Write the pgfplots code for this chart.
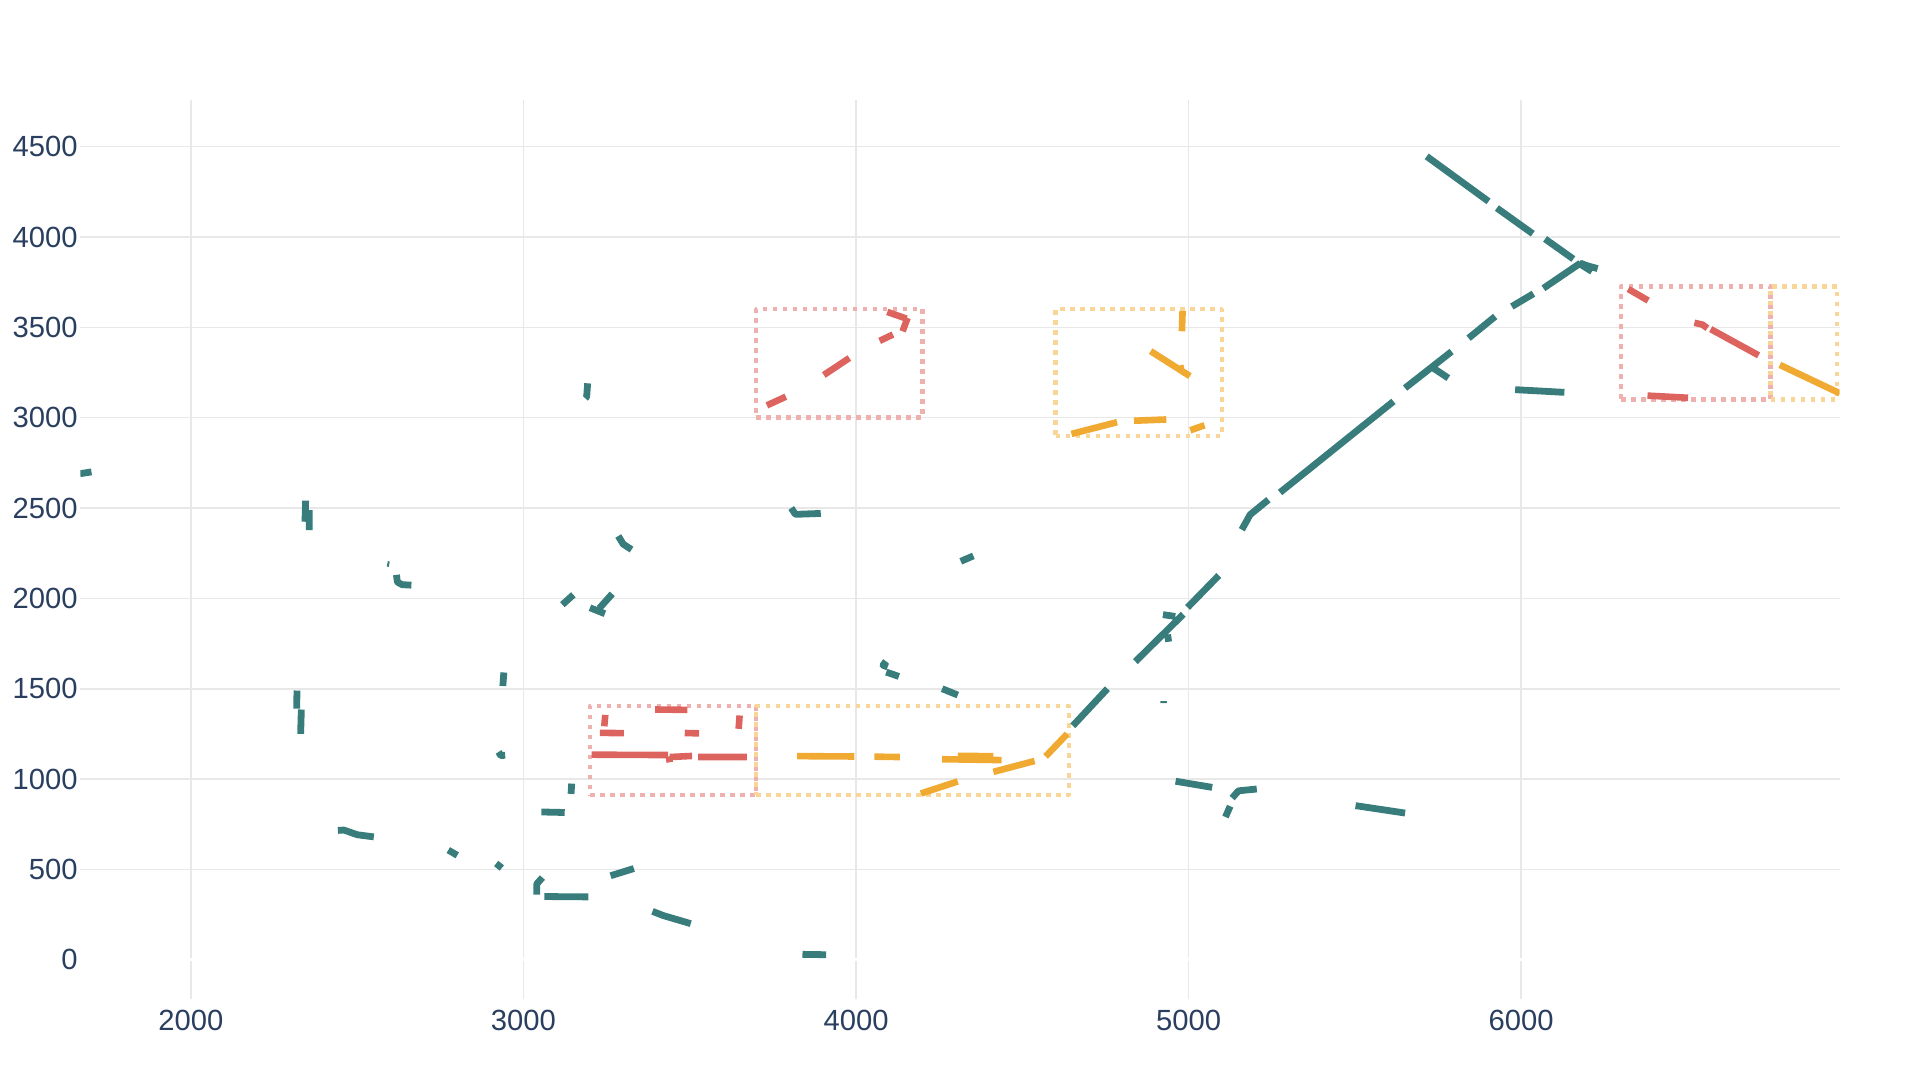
\documentclass[border=0pt]{standalone}
\usepackage{fontspec}
\setmainfont{Liberation Sans}
\usepackage{pgfplots}
\pgfplotsset{compat=1.18}
\definecolor{tealc}{HTML}{387D7C}
\definecolor{redc}{HTML}{DD645E}
\definecolor{orangec}{HTML}{F0AA32}
\definecolor{redrect}{HTML}{EFB1AE}
\definecolor{orangerect}{HTML}{F9D697}
\definecolor{gridgray}{HTML}{E8E8E8}
\definecolor{labelblue}{HTML}{2A3F5F}
\begin{document}
\begin{tikzpicture}
\useasboundingbox (-40.25pt,-40.5pt) rectangle (919.75pt,499.5pt);
\begin{axis}[
 at={(0,0)}, anchor=south west,
 scale only axis, width=879.6pt, height=449.5pt,
 xmin=1668, xmax=6958, ymin=-217, ymax=4758,
 axis line style={draw=none},
 tick style={draw=none},
 major tick length=0pt,
 xtick={2000,3000,4000,5000,6000},
 ytick={0,500,...,4500},
 grid=major,
 grid style={color=gridgray, line width=0.8pt},
 tick label style={font=\fontsize{14.6}{17}\selectfont, text=labelblue},
 /pgf/number format/assume math mode=true,
 /pgf/number format/1000 sep={},
 yticklabel style={inner xsep=1.2pt},
 xticklabel style={yshift=-2pt},
 unbounded coords=jump,
 line cap=butt, line join=round,
]
% white zero line
\addplot[white, line width=1.5pt, forget plot] coordinates {(1668,0) (6958,0)};
% dotted rectangles
\addplot[redrect, line width=2.2pt, dash pattern=on 2.3pt off 2.7pt] coordinates {
(3200,912) (3700,912) (3700,1404) (3200,1404) (3200,912) (nan,nan)
(3700,3000) (4200,3000) (4200,3600) (3700,3600) (3700,3000) (nan,nan)
(6300,3100) (6750,3100) (6750,3725) (6300,3725) (6300,3100)};
\addplot[orangerect, line width=2.2pt, dash pattern=on 2.3pt off 2.7pt] coordinates {
(3700,912) (4640,912) (4640,1404) (3700,1404) (3700,912) (nan,nan)
(4600,2900) (5100,2900) (5100,3600) (4600,3600) (4600,2900) (nan,nan)
(6750,3100) (6950,3100) (6950,3725) (6750,3725) (6750,3100)};
% teal fragments
\addplot[tealc, line width=3.4pt] coordinates {
(1667,2690) (1701,2700) (nan,nan)
(2345,2541) (2343,2424) (nan,nan)
(2356,2489) (2356,2378) (nan,nan)
(3193,3190) (3190,3115) (3186,3107) (nan,nan)
(3285,2345) (3300,2300) (3325,2270) (nan,nan)
(2618,2130) (2621,2090) (2635,2076) (2663,2073) (nan,nan)
(3117,1965) (3150,2020) (nan,nan)
(3267,2025) (3228,1945) (nan,nan)
(3200,1948) (3245,1915) (nan,nan)
(2941,1590) (2938,1515) (nan,nan)
(2319,1490) (2318,1390) (nan,nan)
(2332,1385) (2330,1250) (nan,nan)
(2925,1150) (2932,1130) (2945,1132) (nan,nan)
(3145,975) (3143,918) (nan,nan)
(3054,818) (3124,815) (nan,nan)
(2442,716) (2460,718) (2500,692) (2550,680) (nan,nan)
(2774,607) (2801,578) (nan,nan)
(2918,533) (2935,508) (nan,nan)
(3057,455) (3040,420) (3040,360) (nan,nan)
(3063,350) (3195,348) (nan,nan)
(3262,465) (3332,505) (nan,nan)
(3388,268) (3420,245) (3503,200) (nan,nan)
(3839,30) (3910,28) (nan,nan)
(4315,2205) (4353,2235) (nan,nan)
(4090,1652) (4081,1630) (4095,1620) (nan,nan)
(4091,1592) (4129,1568) (nan,nan)
(4259,1500) (4306,1465) (nan,nan)
(4652,1295) (4756,1500) (nan,nan)
(4840,1650) (4984,1912) (nan,nan)
(4923,1910) (4960,1900) (nan,nan)
(4937,1800) (4940,1760) (nan,nan)
(4997,1950) (5091,2127) (nan,nan)
(4961,988) (5071,954) (nan,nan)
(5111,790) (5125,850) (nan,nan)
(5131,895) (5150,935) (5205,945) (nan,nan)
(5502,853) (5651,812) (nan,nan)
(3805,2500) (3818,2465) (3894,2470) (nan,nan)
(5160,2380) (5185,2463) (5240,2546) (nan,nan)
(5275,2586) (5616,3090) (nan,nan)
(5651,3164) (5791,3366) (nan,nan)
(5736,3274) (5781,3219) (nan,nan)
(5842,3440) (5922,3560) (nan,nan)
(5972,3615) (6037,3686) (nan,nan)
(6067,3716) (6178,3855) (nan,nan)
(6178,3855) (6200,3840) (6230,3825) (nan,nan)
(5716,4446) (5902,4197) (nan,nan)
(5927,4160) (6035,4018) (nan,nan)
(6072,3989) (6157,3878) (nan,nan)
(6173,3855) (6213,3809) (nan,nan)
(5982,3155) (6130,3140)};
\addplot[tealc, line width=1pt] coordinates {
(2595,2205) (2592,2175) (nan,nan)
(4915,1426) (4935,1426)};
% red fragments
\addplot[redc, line width=3.3pt] coordinates {
(3246,1355) (3243,1292) (nan,nan)
(3230,1256) (3302,1254) (nan,nan)
(3396,1385) (3493,1383) (nan,nan)
(3485,1255) (3528,1253) (nan,nan)
(3650,1352) (3647,1278) (nan,nan)
(3205,1135) (3435,1133) (nan,nan)
(3437,1125) (3440,1093) (nan,nan)
(3440,1122) (3507,1128) (nan,nan)
(3525,1122) (3672,1122) (nan,nan)
(3732,3068) (3789,3116) (nan,nan)
(3903,3236) (3980,3330) (nan,nan)
(4071,3425) (4111,3460) (nan,nan)
(4094,3585) (4152,3548) (nan,nan)
(4155,3552) (4140,3478) (nan,nan)
(6322,3712) (6382,3648) (nan,nan)
(6521,3525) (6545,3515) (6560,3495) (nan,nan)
(6570,3490) (6714,3345) (nan,nan)
(6380,3122) (6502,3110)};
% orange fragments
\addplot[orangec, line width=3.3pt] coordinates {
(3823,1127) (3995,1125) (nan,nan)
(4055,1124) (4132,1122) (nan,nan)
(4259,1110) (4438,1105) (nan,nan)
(4306,1128) (4413,1127) (nan,nan)
(4195,920) (4306,987) (nan,nan)
(4413,1040) (4537,1100) (nan,nan)
(4570,1125) (4635,1250) (nan,nan)
(4982,3590) (4980,3478) (nan,nan)
(4886,3368) (5004,3230) (nan,nan)
(4975,3290) (4978,3265) (nan,nan)
(4648,2910) (4785,2975) (nan,nan)
(4836,2983) (4933,2990) (nan,nan)
(5005,2930) (5048,2958) (nan,nan)
(6778,3292) (6958,3135)};
\end{axis}
\end{tikzpicture}
\end{document}
